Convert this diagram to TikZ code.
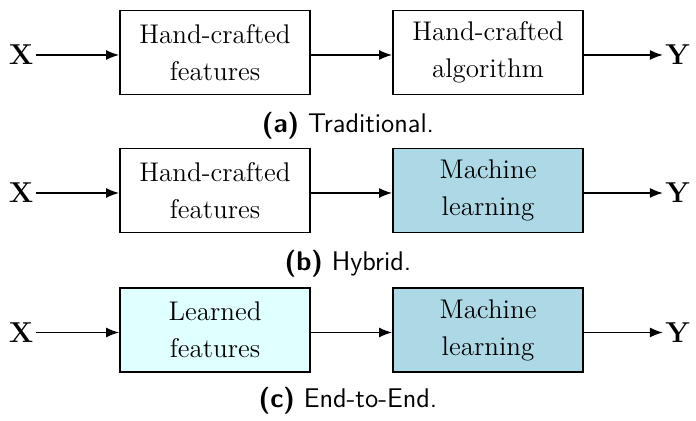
\documentclass[tikz,border=0pt]{standalone}
\usetikzlibrary{arrows.meta}
\definecolor{mlblue}{RGB}{173,216,230}
\definecolor{learncyan}{RGB}{224,255,255}
\begin{document}
\begin{tikzpicture}[x=0.5pt,y=-0.5pt,
  blockbox/.style={draw, line width=0.9pt, minimum width=95pt, minimum height=42pt,
    inner sep=0pt, align=center, font=\fontsize{13.5}{18.5}\selectfont},
  ionode/.style={inner sep=1pt, font=\fontsize{13.5}{16}\selectfont},
  capnode/.style={inner sep=0pt, font=\fontsize{13.5}{16}\selectfont\sffamily},
  arr/.style={line width=0.8pt, -{Latex[length=6.5pt,width=5pt]}}]
\useasboundingbox (0,0) rectangle (696,421);

% (a) traditional pipeline
\node[ionode] (xa) at (21,55) {$\mathbf{X}$};
\node[blockbox] (fa) at (215,52.5) {Hand-crafted\\features};
\node[blockbox] (ga) at (488,52.5) {Hand-crafted\\algorithm};
\node[ionode] (ya) at (678,55) {$\mathbf{Y}$};
\draw[arr] (xa) -- (fa.west |- xa);
\draw[arr] (fa.east |- xa) -- (ga.west |- xa);
\draw[arr] (ga.east |- xa) -- (ya);
\node[capnode] (ca) at (348,126) {\textbf{(a)} Traditional.};

% (b) hybrid pipeline
\node[ionode] (xb) at (21,193) {$\mathbf{X}$};
\node[blockbox] (fb) at (215,190.5) {Hand-crafted\\features};
\node[blockbox, fill=mlblue] (gb) at (488,190.5) {Machine\\learning};
\node[ionode] (yb) at (678,193) {$\mathbf{Y}$};
\draw[arr] (xb) -- (fb.west |- xb);
\draw[arr] (fb.east |- xb) -- (gb.west |- xb);
\draw[arr] (gb.east |- xb) -- (yb);
\node[capnode] (cb) at (348,264) {\textbf{(b)} Hybrid.};

% (c) end-to-end pipeline
\node[ionode] (xc) at (21,332.5) {$\mathbf{X}$};
\node[blockbox, fill=learncyan] (fc) at (215,330) {Learned\\features};
\node[blockbox, fill=mlblue] (gc) at (488,330) {Machine\\learning};
\node[ionode] (yc) at (678,332.5) {$\mathbf{Y}$};
\draw[arr] (xc) -- (fc.west |- xc);
\draw[arr] (fc.east |- xc) -- (gc.west |- xc);
\draw[arr] (gc.east |- xc) -- (yc);
\node[capnode] (cc) at (348,401) {\textbf{(c)} End-to-End.};
\end{tikzpicture}
\end{document}
